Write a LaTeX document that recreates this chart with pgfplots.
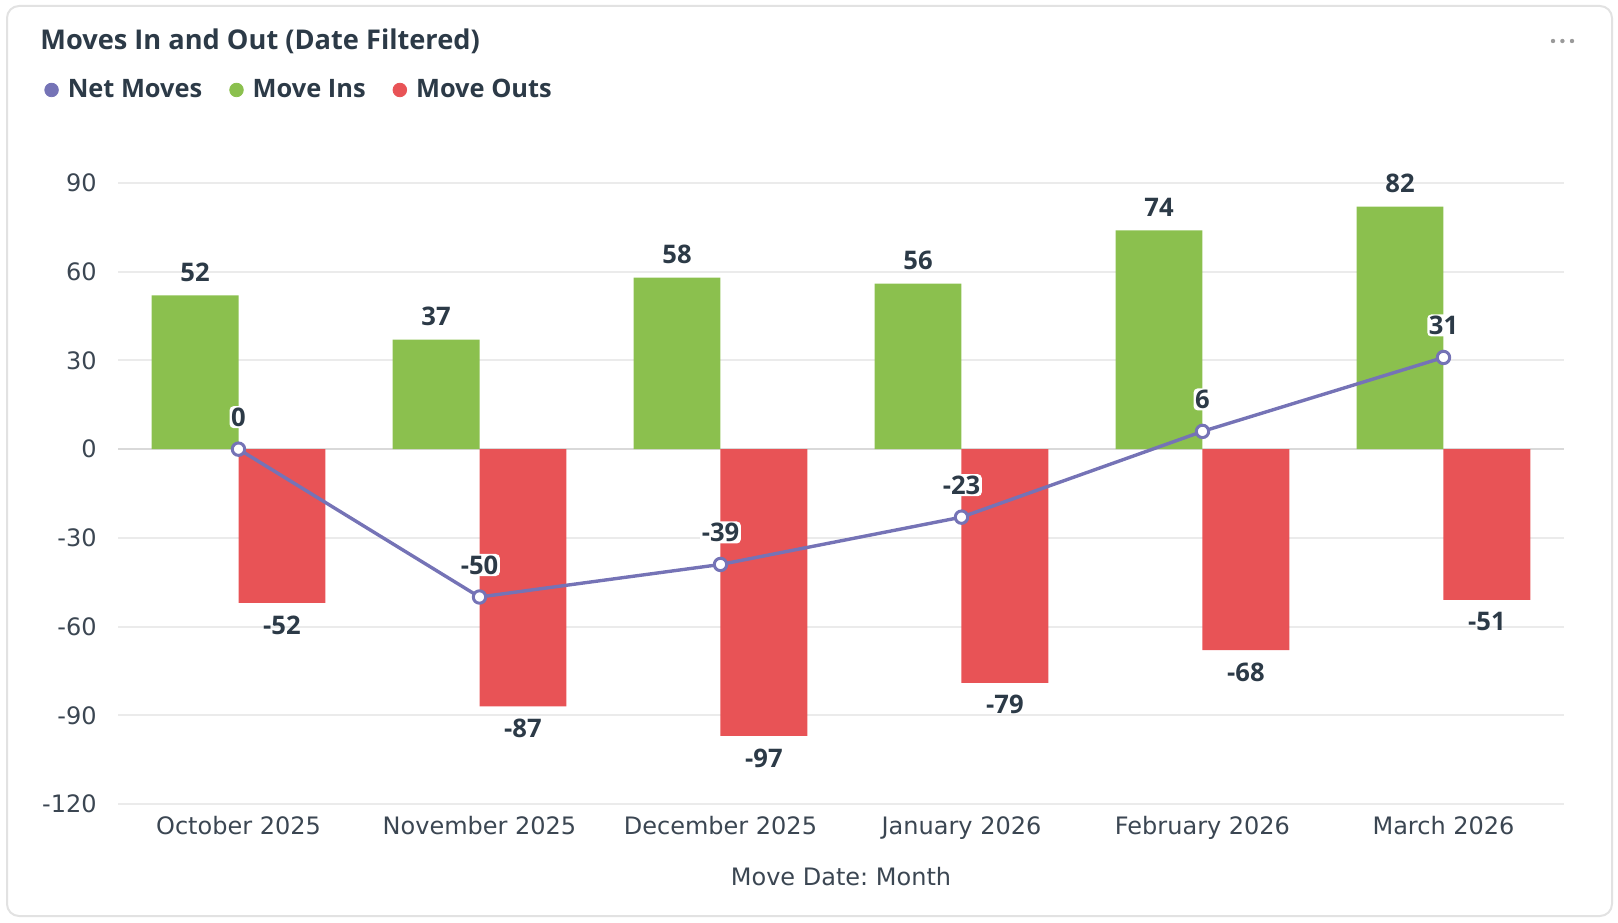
\documentclass[border=0pt]{standalone}
\usepackage{fontspec}
\setmainfont{Open Sans}
\newfontfamily\regfont{DejaVu Sans}
\usepackage{pgfplots}
\pgfplotsset{compat=1.18}

\definecolor{ins}{HTML}{8BC04E}
\definecolor{outs}{HTML}{E85356}
\definecolor{net}{HTML}{7573B6}
\definecolor{txt}{HTML}{2C3A47}
\definecolor{ticktxt}{HTML}{3B4652}
\definecolor{gridc}{HTML}{EBEBEB}
\definecolor{zeroc}{HTML}{D9D9D9}
\definecolor{card}{HTML}{E2E2E2}
\definecolor{dots}{HTML}{9A9A9A}

\newcommand{\lblfont}{\bfseries\fontsize{12.8}{15}\selectfont}
\newcommand{\tickfont}{\regfont\fontsize{12}{14}\selectfont}

\begin{document}
\frenchspacing
\begin{tikzpicture}
\useasboundingbox (0pt,0pt) rectangle (809pt,461pt);
\draw[card, line width=1pt, rounded corners=6pt] (3.5pt,3pt) rectangle (806pt,458pt);
\node[anchor=west, inner sep=0pt, text=txt, font=\bfseries\fontsize{13.6}{16}\selectfont]
  at (20pt,440.5pt) {Moves In and Out (Date Filtered)};
\foreach \x in {776.5,781.2,786} \fill[dots] (\x pt,440.5pt) circle (1.1pt);

\begin{axis}[
  at={(59pt,59pt)}, anchor=south west,
  scale only axis, width=723pt, height=310.5pt,
  xmin=-0.5, xmax=5.5, ymin=-120, ymax=90,
  clip=false,
  axis line style={draw=none},
  major tick length=0pt,
  ytick={-120,-90,-60,-30,30,60,90},
  extra y ticks={0},
  extra y tick style={grid style={zeroc, line width=1.1pt}},
  ymajorgrids, grid style={gridc, line width=1pt},
  xtick={0,...,5},
  xticklabels={October 2025,November 2025,December 2025,January 2026,February 2026,March 2026},
  /pgf/number format/assume math mode=true,
  ticklabel style={font=\tickfont, text=ticktxt},
  yticklabel style={anchor=east, inner sep=0pt, xshift=-10.5pt},
  xticklabel style={anchor=base, inner sep=0pt, yshift=-15.4pt},
  xlabel={Move Date: Month},
  xlabel style={at={(axis description cs:0.5,0)}, anchor=base, yshift=-40.5pt, font=\tickfont, text=ticktxt},
  legend columns=3,
  legend style={at={(axis description cs:-0.0512,1.1498)}, anchor=west, draw=none, fill=none,
    inner sep=0pt, font=\bfseries\fontsize{12.7}{14}\selectfont, text=txt,
    nodes={inner xsep=4.5pt},
    /tikz/every even column/.append style={column sep=9pt}},
]
\addlegendimage{legend image code/.code={\fill[net] (3.4pt,0pt) circle (3.4pt);}}
\addlegendentry{Net Moves}
\addlegendimage{legend image code/.code={\fill[ins] (3.4pt,0pt) circle (3.4pt);}}
\addlegendentry{Move Ins}
\addlegendimage{legend image code/.code={\fill[outs] (3.4pt,0pt) circle (3.4pt);}}
\addlegendentry{Move Outs}

\addplot[ybar, bar width=0.36, bar shift=-0.18, fill=ins, draw=none, forget plot,
  nodes near coords, every node near coord/.append style={anchor=center, xshift=-21.7pt, yshift=11.5pt, font=\lblfont, text=txt}]
  coordinates {(0,52) (1,37) (2,58) (3,56) (4,74) (5,82)};
\addplot[ybar, bar width=0.36, bar shift=0.18, fill=outs, draw=none, forget plot,
  nodes near coords, every node near coord/.append style={anchor=center, xshift=21.7pt, yshift=-11pt, font=\lblfont, text=txt}]
  coordinates {(0,-52) (1,-87) (2,-97) (3,-79) (4,-68) (5,-51)};
\addplot[net, line width=1.7pt, mark=*, mark size=3.1pt,
  mark options={fill=white, draw=net, line width=1.5pt}, forget plot,
  nodes near coords,
  every node near coord/.append style={anchor=center, yshift=16pt, font=\lblfont, text=txt,
    fill=white, inner sep=0.8pt, rounded corners=2pt}]
  coordinates {(0,0) (1,-50) (2,-39) (3,-23) (4,6) (5,31)};
\end{axis}
\end{tikzpicture}
\end{document}
